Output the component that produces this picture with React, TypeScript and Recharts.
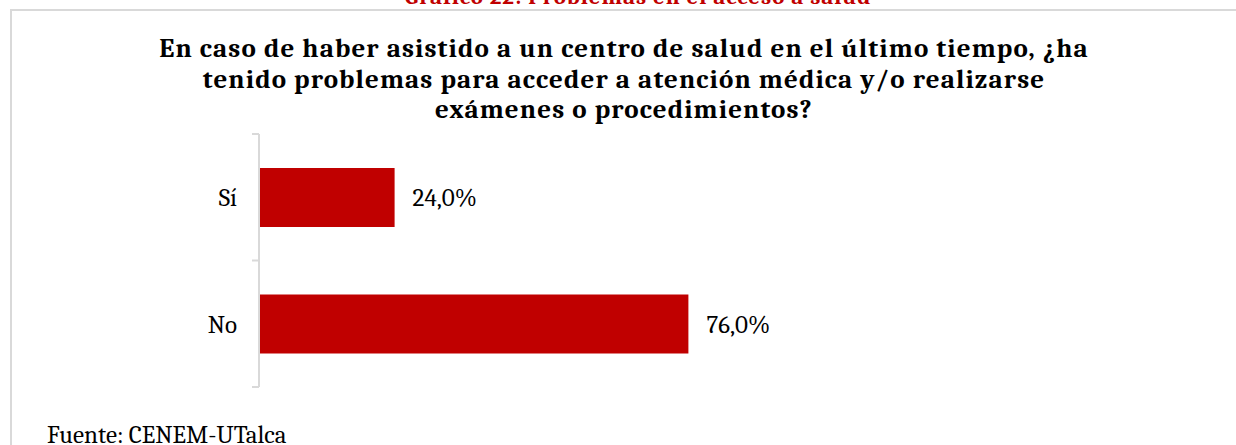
import React from "react";
import { Bar, BarChart, LabelList, XAxis, YAxis } from "recharts";

const categories = ["Sí", "No"];
const percentages = [24.0, 76.0];
const titleLines = [
  "En caso de haber asistido a un centro de salud en el último tiempo, ¿ha",
  "tenido problemas para acceder a atención médica y/o realizarse",
  "exámenes o procedimientos?",
];
const figureCaption = "Gráfico 22: Problemas en el acceso a salud";
const sourceNote = "Fuente: CENEM-UTalca";

const data = categories.map((name, i) => ({ name, value: percentages[i] }));

const RED = "#C00000";
const GRAY = "#d9d9d9";
const SERIF = "Cambria, 'Liberation Serif', serif";
const TICK_SIZE = 7;
const TICK_MARGIN = 15;

// Excel puts the tick marks between the categories, not on them
function CategoryTick(props: any) {
  const { x, y, payload, index, visibleTicksCount } = props;
  const half = payload.offset ?? 0;
  const lx = x + TICK_MARGIN;
  return (
    <g>
      <line x1={lx} x2={lx + TICK_SIZE} y1={y - half} y2={y - half} stroke={GRAY} strokeWidth={2} />
      {index === visibleTicksCount - 1 && (
        <line x1={lx} x2={lx + TICK_SIZE} y1={y + half} y2={y + half} stroke={GRAY} strokeWidth={2} />
      )}
      <text x={x} y={y} dy="0.355em" textAnchor="end" fontFamily={SERIF} fontSize={25} fill="#000">
        {payload.value}
      </text>
    </g>
  );
}

const fmt = (v: any) => Number(v).toFixed(1).replace(".", ",") + "%";

export default function App() {
  return (
    <div style={{ position: "absolute", left: 0, top: 0, width: 1236, height: 445, overflow: "hidden", background: "#fff" }}>
      <div
        style={{
          position: "absolute",
          left: 10,
          top: 9,
          width: 1236,
          height: 460,
          borderTop: `2px solid ${GRAY}`,
          borderLeft: `2px solid ${GRAY}`,
        }}
      />
      <svg width={1236} height={445} style={{ position: "absolute", left: 0, top: 0 }}>
        <text
          x={638}
          y={4}
          textAnchor="middle"
          fontFamily={SERIF}
          fontWeight="bold"
          fontSize={23}
          letterSpacing={0.9}
          fill={RED}
        >
          {figureCaption}
        </text>
        {titleLines.map((line, i) => (
          <text
            key={i}
            x={624}
            y={57 + i * 30.5}
            textAnchor="middle"
            fontFamily={SERIF}
            fontWeight="bold"
            fontSize={27}
            letterSpacing={1.1}
            fill="#000"
          >
            {line}
          </text>
        ))}
        <text x={47} y={443} fontFamily={SERIF} fontSize={25} fill="#000">
          {sourceNote}
        </text>
      </svg>
      <div style={{ position: "absolute", left: 0, top: 0 }}>
        <BarChart
          width={1236}
          height={445}
          data={data}
          layout="vertical"
          margin={{ top: 134, right: 525, bottom: 58, left: 0 }}
        >
          <XAxis type="number" domain={[0, 80]} hide />
          <YAxis
            type="category"
            dataKey="name"
            width={259}
            axisLine={{ stroke: GRAY, strokeWidth: 2 }}
            tickLine={false}
            tickSize={TICK_SIZE}
            tickMargin={TICK_MARGIN}
            tick={<CategoryTick />}
            interval={0}
          />
          <Bar dataKey="value" fill={RED} barSize={59} isAnimationActive={false}>
            <LabelList
              dataKey="value"
              position="right"
              offset={18}
              formatter={fmt}
              fontFamily={SERIF}
              fontSize={25}
              fill="#000"
            />
          </Bar>
        </BarChart>
      </div>
    </div>
  );
}
